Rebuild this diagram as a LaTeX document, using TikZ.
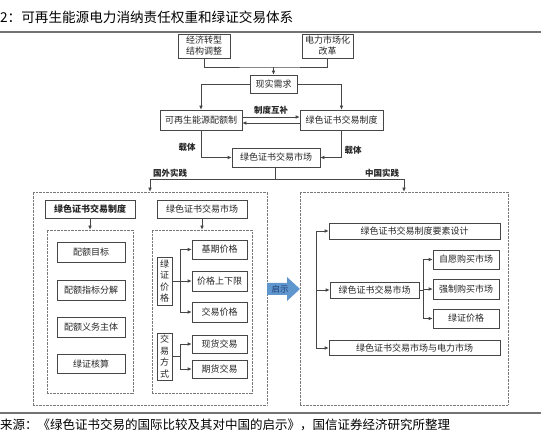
\documentclass[tikz,border=0pt]{standalone}
\usepackage{fontspec}
\newfontfamily\cjk{Noto Sans CJK SC}
\usetikzlibrary{arrows.meta,calc}
\definecolor{lineg}{RGB}{70,70,70}
\definecolor{dotg}{RGB}{120,120,120}
\definecolor{arrblue}{RGB}{96,150,206}
\definecolor{txtblue}{RGB}{30,60,115}
\begin{document}
\begin{tikzpicture}[x=1pt,y=-1pt,
  bx/.style={draw=lineg,line width=0.6pt,inner sep=0pt,align=center,text=black!85,
    font=\cjk\fontsize{9}{11}\selectfont},
  dotbox/.style={draw=dotg,line width=0.6pt,dash pattern=on 0.7pt off 0.7pt,inner sep=0pt},
  lbl/.style={inner sep=1pt,text=black!85,font=\cjk\bfseries\fontsize{8.5}{10}\selectfont},
  ln/.style={draw=lineg,line width=0.6pt},
  arr/.style={ln,-{Latex[length=4pt,width=3.5pt]}}]
\useasboundingbox (0,0) rectangle (541,443);
% title and rules
\node[anchor=west,inner sep=0pt,font=\cjk\fontsize{13.6}{15}\selectfont] (title) at (0,17) {2：可再生能源电力消纳责任权重和绿证交易体系};
\draw[draw=black!55,line width=1.2pt] (0,32) -- (541,32);
\draw[draw=black!55,line width=1.2pt] (0,413) -- (541,413);
\node[anchor=west,inner sep=0pt,font=\cjk\fontsize{12.5}{14}\selectfont] (src) at (0,425) {来源：《绿色证书交易的国际比较及其对中国的启示》，国信证券经济研究所整理};
% top part
\node[bx,minimum width=52,minimum height=24] (econ) at (204,46) {经济转型\\结构调整};
\node[bx,minimum width=51,minimum height=24] (power) at (327.5,46) {电力市场化\\改革};
\node[bx,minimum width=47,minimum height=18] (demand) at (273.5,84) {现实需求};
\node[bx,minimum width=82,minimum height=20] (quota) at (201,120) {可再生能源配额制};
\node[bx,minimum width=83,minimum height=20] (gcsys) at (341.5,120) {绿色证书交易制度};
\node[bx,minimum width=88,minimum height=19] (market) at (276,157.5) {绿色证书交易市场};
\coordinate (j1) at (273.5,67);
\draw[ln] (econ.south) |- (j1) -| (power.south);
\draw[arr] (j1) -- (demand.north);
\draw[arr] (demand.west) -| (quota.north);
\draw[arr] (demand.east) -| (gcsys.north);
\draw[arr] ($(quota.east)+(0,-3)$) -- ($(gcsys.west)+(0,-3)$);
\draw[arr] ($(gcsys.west)+(0,3)$) -- ($(quota.east)+(0,3)$);
\node[lbl] (comp) at (271,110) {制度互补};
\draw[arr] (quota.south) |- (market.west);
\draw[arr] (gcsys.south) |- (market.east);
\node[lbl] (carrier1) at (187,147) {载体};
\node[lbl] (carrier2) at (353,150) {载体};
% big boxes
\node[dotbox,minimum width=234,minimum height=213] (lbig) at (150,298.5) {};
\node[dotbox,minimum width=208,minimum height=213] (rbig) at (404,298.5) {};
\coordinate (j2) at (275,179);
\draw[ln] (market.south -| j2) -- (j2);
\draw[arr] (j2) -| (lbig.north);
\draw[arr] (j2) -| (rbig.north);
\node[lbl] (abroad) at (170,173) {国外实践};
\node[lbl] (china) at (382,173) {中国实践};
% left internals
\node[bx,minimum width=90,minimum height=18,font=\cjk\bfseries\fontsize{9}{10}\selectfont] (lsys) at (90,209) {绿色证书交易制度};
\node[dotbox,minimum width=86,minimum height=163] (linner) at (90,311.5) {};
\draw[arr] (lsys.south) -- (linner.north);
\node[bx,minimum width=68,minimum height=20] (q1) at (91,252) {配额目标};
\node[bx,minimum width=68,minimum height=20] (q2) at (91,290) {配额指标分解};
\node[bx,minimum width=68,minimum height=20] (q3) at (91,327) {配额义务主体};
\node[bx,minimum width=68,minimum height=19] (q4) at (91,364) {绿证核算};
\node[bx,minimum width=90,minimum height=18] (lmkt) at (202,209) {绿色证书交易市场};
\node[dotbox,minimum width=100,minimum height=163] (rinner) at (202,311.5) {};
\draw[arr] (lmkt.south) -- (rinner.north);
\node[bx,minimum width=15,minimum height=48,font=\cjk\fontsize{9}{11.5}\selectfont] (vprice) at (164.5,281) {绿\\证\\价\\格};
\node[bx,minimum width=55,minimum height=19] (p1) at (219.5,249.5) {基期价格};
\node[bx,minimum width=55,minimum height=20] (p2) at (219.5,281) {价格上下限};
\node[bx,minimum width=55,minimum height=20] (p3) at (219.5,312) {交易价格};
\node[bx,minimum width=15,minimum height=47,font=\cjk\fontsize{9}{11.5}\selectfont] (vtrade) at (164.5,356.5) {交\\易\\方\\式};
\node[bx,minimum width=55,minimum height=18] (t1) at (219.5,344) {现货交易};
\node[bx,minimum width=55,minimum height=18] (t2) at (219.5,369) {期货交易};
\coordinate (bx1) at (180,0);
\draw[ln] (vprice.east) -- (vprice.east -| bx1);
\draw[ln] (p1.west -| bx1) -- (p3.west -| bx1);
\draw[arr] (p1.west -| bx1) -- (p1.west);
\draw[arr] (p2.west -| bx1) -- (p2.west);
\draw[arr] (p3.west -| bx1) -- (p3.west);
\draw[ln] (vtrade.east) -- (vtrade.east -| bx1);
\draw[ln] (t1.west -| bx1) -- (t2.west -| bx1);
\draw[arr] (t1.west -| bx1) -- (t1.west);
\draw[arr] (t2.west -| bx1) -- (t2.west);
% hint arrow
\fill[arrblue] (267,283) -- (287,283) -- (287,277) -- (300,289) -- (287,301) -- (287,295) -- (267,295) -- cycle;
\node[inner sep=0pt,text=txtblue,font=\cjk\fontsize{8.5}{10}\selectfont] (hint) at (280,289) {启示};
% right internals
\node[bx,minimum width=171,minimum height=16] (r1) at (414.5,231) {绿色证书交易制度要素设计};
\node[bx,minimum width=89,minimum height=16] (r2) at (374.5,290) {绿色证书交易市场};
\node[bx,minimum width=171,minimum height=15] (r3) at (414.5,348) {绿色证书交易市场与电力市场};
\node[bx,minimum width=66,minimum height=19] (s1) at (466,259.5) {自愿购买市场};
\node[bx,minimum width=66,minimum height=20] (s2) at (466,289) {强制购买市场};
\node[bx,minimum width=66,minimum height=19] (s3) at (466,318.5) {绿证价格};
\coordinate (bx2) at (316,0);
\draw[ln] (r1.west -| bx2) -- (r3.west -| bx2);
\draw[arr] (r1.west -| bx2) -- (r1.west);
\draw[arr] (r2.west -| bx2) -- (r2.west);
\draw[arr] (r3.west -| bx2) -- (r3.west);
\coordinate (bx3) at (423,0);
\draw[ln] (r2.east) -- (r2.east -| bx3);
\draw[ln] (s1.west -| bx3) -- (s3.west -| bx3);
\draw[arr] (s1.west -| bx3) -- (s1.west);
\draw[arr] (s2.west -| bx3) -- (s2.west);
\draw[arr] (s3.west -| bx3) -- (s3.west);
\end{tikzpicture}
\end{document}
